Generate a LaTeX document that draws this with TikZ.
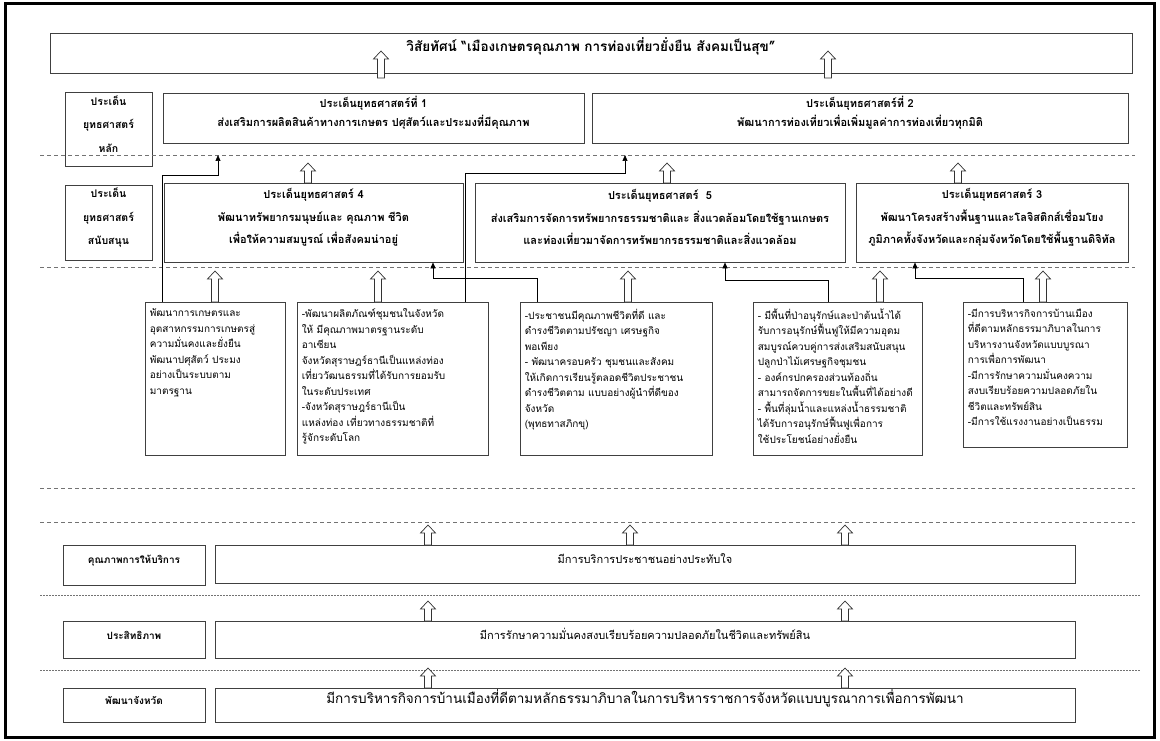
\documentclass[tikz,border=0pt]{standalone}
\usepackage{fontspec}
\newfontfamily\thai[Script=Thai]{Loma}
\usetikzlibrary{arrows.meta,fit}
\tikzset{
  box/.style={draw=black!75, line width=0.7pt, inner sep=0pt, fill=white},
  hd/.style={font=\thai\bfseries\fontsize{11}{19}\selectfont, align=center},
  hdr/.style={font=\thai\bfseries\fontsize{11}{22.5}\selectfont, align=center},
  lab/.style={font=\thai\bfseries\fontsize{10.5}{23.5}\selectfont, align=center},
  dtext/.style={font=\thai\fontsize{10}{15.5}\selectfont, align=left, inner sep=0pt},
  conn/.style={draw=black, line width=0.7pt, -{Triangle[length=6pt,width=5pt]}},
  dline/.style={draw=black!55, line width=0.8pt, dash pattern=on 4pt off 3pt},
  dotline/.style={draw=black!55, line width=0.8pt, dash pattern=on 1.5pt off 1.5pt},
  hollow/.style={draw=black!80, line width=0.7pt, fill=white},
  pics/harrow/.style={code={
    \draw[hollow] (-3.5,0) -- (-3.5,{-(#1-8)}) -- (-7.5,{-(#1-8)}) -- (0,{-#1}) -- (7.5,{-(#1-8)}) -- (3.5,{-(#1-8)}) -- (3.5,0) -- cycle;
  }}
}
\begin{document}
\begin{tikzpicture}[x=1pt,y=-1pt]
\useasboundingbox (0,0) rectangle (1160,741);
\draw[line width=3pt] (5.5,4) rectangle (1154.5,737.5);

% title
\node[box, fit={(50,33) (1132,73)}, font=\thai\bfseries\fontsize{13.5}{16}\selectfont] (vis) {วิสัยทัศน์ “เมืองเกษตรคุณภาพ การท่องเที่ยวยั่งยืน สังคมเป็นสุข”};
\pic at (381,78) {harrow=27};
\pic at (828,78) {harrow=27};

% row 1
\node[box, fit={(65,92) (152,166)}, lab] (L1) {ประเด็น\\ยุทธศาสตร์\\หลัก};
\node[box, fit={(163,93) (584,143)}, hd] (s1) {ประเด็นยุทธศาสตร์ที่ 1\\ส่งเสริมการผลิตสินค้าทางการเกษตร ปศุสัตว์และประมงที่มีคุณภาพ};
\node[box, fit={(592,93) (1128,143)}, hd] (s2) {ประเด็นยุทธศาสตร์ที่ 2\\พัฒนาการท่องเที่ยวเพื่อเพิ่มมูลค่าการท่องเที่ยวทุกมิติ};
\draw[dline] (40,155) -- (1135,155);

% row 2
\node[box, fit={(65,185) (152,260)}, lab] (L2) {ประเด็น\\ยุทธศาสตร์\\สนับสนุน};
\node[box, fit={(164,183) (463,262)}, hdr] (s4) {ประเด็นยุทธศาสตร์ 4\\พัฒนาทรัพยากรมนุษย์และ คุณภาพ ชีวิต\\เพื่อให้ความสมบูรณ์ เพื่อสังคมน่าอยู่};
\node[box, fit={(475,183) (845,262)}, hdr] (s5) {ประเด็นยุทธศาสตร์\ \ 5\\ส่งเสริมการจัดการทรัพยากรธรรมชาติและ สิ่งแวดล้อมโดยใช้ฐานเกษตร\\และท่องเที่ยวมาจัดการทรัพยากรธรรมชาติและสิ่งแวดล้อม};
\node[box, fit={(856,183) (1128,262)}, hdr] (s3) {ประเด็นยุทธศาสตร์ 3\\พัฒนาโครงสร้างพื้นฐานและโลจิสติกส์เชื่อมโยง\\ภูมิภาคทั้งจังหวัดและกลุ่มจังหวัดโดยใช้พื้นฐานดิจิทัล};
\pic at (308,183) {harrow=20};
\pic at (667,183) {harrow=20};
\pic at (958,183) {harrow=20};
\draw[dline] (40,267) -- (1135,267);

% detail boxes
\node[box, fit={(145,302) (285,455)}] (bA) {};
\node[box, fit={(297,302) (488,455)}] (bB) {};
\node[box, fit={(520,302) (712,455)}] (bC) {};
\node[box, fit={(753,302) (922,455)}] (bD) {};
\node[box, fit={(963,302) (1127,447)}] (bE) {};
\node[dtext, anchor=north west] (tA) at ([xshift=5pt,yshift=-7pt]bA.north west) {พัฒนาการเกษตรและ\\อุตสาหกรรมการเกษตรสู่\\ความมั่นคงและยั่งยืน\\พัฒนาปศุสัตว์ ประมง\\อย่างเป็นระบบตาม\\มาตรฐาน};
\node[dtext, anchor=north west] (tB) at ([xshift=5pt,yshift=-7pt]bB.north west) {-พัฒนาผลิตภัณฑ์ชุมชนในจังหวัด\\ให้ มีคุณภาพมาตรฐานระดับ\\อาเซียน\\จังหวัดสุราษฎร์ธานีเป็นแหล่งท่อง\\เที่ยววัฒนธรรมที่ได้รับการยอมรับ\\ในระดับประเทศ\\-จังหวัดสุราษฎร์ธานีเป็น\\แหล่งท่อง เที่ยวทางธรรมชาติที่\\รู้จักระดับโลก};
\node[dtext, anchor=north west] (tC) at ([xshift=5pt,yshift=-7pt]bC.north west) {-ประชาชนมีคุณภาพชีวิตที่ดี และ\\ดำรงชีวิตตามปรัชญา เศรษฐกิจ\\พอเพียง\\- พัฒนาครอบครัว ชุมชนและสังคม\\ให้เกิดการเรียนรู้ตลอดชีวิตประชาชน\\ดำรงชีวิตตาม แบบอย่างผู้นำที่ดีของ\\จังหวัด\\(พุทธทาสภิกขุ)};
\node[dtext, anchor=north west] (tD) at ([xshift=5pt,yshift=-7pt]bD.north west) {- มีพื้นที่ป่าอนุรักษ์และป่าต้นน้ำได้\\รับการอนุรักษ์ฟื้นฟูให้มีความอุดม\\สมบูรณ์ควบคู่การส่งเสริมสนับสนุน\\ปลูกป่าไม้เศรษฐกิจชุมชน\\- องค์กรปกครองส่วนท้องถิ่น\\สามารถจัดการขยะในพื้นที่ได้อย่างดี\\- พื้นที่ลุ่มน้ำและแหล่งน้ำธรรมชาติ\\ได้รับการอนุรักษ์ฟื้นฟูเพื่อการ\\ใช้ประโยชน์อย่างยั่งยืน};
\node[dtext, anchor=north west] (tE) at ([xshift=5pt,yshift=-7pt]bE.north west) {-มีการบริหารกิจการบ้านเมือง\\ที่ดีตามหลักธรรมาภิบาลในการ\\บริหารงานจังหวัดแบบบูรณา\\การเพื่อการพัฒนา\\-มีการรักษาความมั่นคงความ\\สงบเรียบร้อยความปลอดภัยใน\\ชีวิตและทรัพย์สิน\\-มีการใช้แรงงานอย่างเป็นธรรม};
\pic at (215,302) {harrow=31};
\pic at (378,302) {harrow=31};
\pic at (628,302) {harrow=31};
\pic at (880,302) {harrow=31};
\pic at (1043,302) {harrow=31};

% connectors
\coordinate (k1) at (162,175); \coordinate (t1) at (218,155);
\coordinate (k2) at (465,173); \coordinate (t2) at (625,155);
\coordinate (k3) at (537,278); \coordinate (t3) at (433,278);
\coordinate (k4) at (828,280); \coordinate (t4) at (725,280);
\coordinate (k5) at (1023,278); \coordinate (t5) at (915,278);
\draw[conn] (bA.north -| k1) -- (k1) -| (t1);
\draw[conn] (bB.north -| k2) -- (k2) -| (t2);
\draw[conn] (bC.north -| k3) -- (k3) -- (t3) -- (s4.south -| t3);
\draw[conn] (bD.north -| k4) -- (k4) -- (t4) -- (s5.south -| t4);
\draw[conn] (bE.north -| k5) -- (k5) -- (t5) -- (s3.south -| t5);

\draw[dline] (40,488) -- (1135,488);
\draw[dline] (40,522) -- (1135,522);

% bottom rows
\pic at (428,545) {harrow=20};
\pic at (630,545) {harrow=20};
\pic at (845,545) {harrow=20};
\node[box, fit={(63,545) (205,585)}, font=\thai\bfseries\fontsize{10}{12}\selectfont] (Lq) {คุณภาพการให้บริการ};
\node[box, fit={(215,545) (1075,583)}, font=\thai\fontsize{11}{13}\selectfont] (q) {มีการบริการประชาชนอย่างประทับใจ};
\draw[dotline] (40,595) -- (1140,595);
\pic at (428,621) {harrow=20};
\pic at (845,621) {harrow=20};
\node[box, fit={(63,621) (205,658)}, font=\thai\bfseries\fontsize{10}{12}\selectfont] (Le) {ประสิทธิภาพ};
\node[box, fit={(215,621) (1075,658)}, font=\thai\fontsize{11}{13}\selectfont] (e) {มีการรักษาความมั่นคงสงบเรียบร้อยความปลอดภัยในชีวิตและทรัพย์สิน};
\draw[dotline] (40,670) -- (1140,670);
\pic at (428,688) {harrow=20};
\pic at (845,688) {harrow=20};
\node[box, fit={(63,688) (205,722)}, font=\thai\bfseries\fontsize{10}{12}\selectfont] (Lp) {พัฒนาจังหวัด};
\node[box, fit={(215,688) (1075,722)}, font=\thai\fontsize{13.5}{16}\selectfont] (p) {มีการบริหารกิจการบ้านเมืองที่ดีตามหลักธรรมาภิบาลในการบริหารราชการจังหวัดแบบบูรณาการเพื่อการพัฒนา};
\end{tikzpicture}
\end{document}
